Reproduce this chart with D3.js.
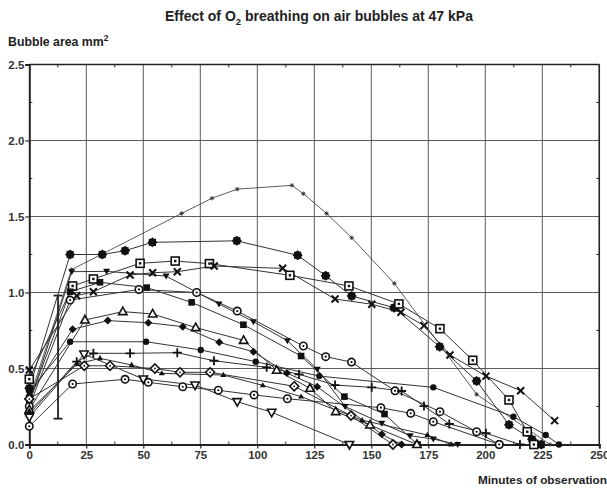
<!DOCTYPE html>
<html>
<head>
<meta charset="utf-8">
<script src="https://cdn.jsdelivr.net/npm/d3@7"></script>
<style>
  html, body { margin: 0; padding: 0; background: #fff; }
  svg { display: block; font-family: "Liberation Sans", Arial, sans-serif; }
</style>
</head>
<body>
<svg id="chart" width="607" height="493"></svg>
<script>
// Bubble area (mm²) versus minutes of observation, one array pair per bubble.
const starMin = [0, 18.5, 66.8, 80.1, 91.2, 115.2, 120.2, 130.4, 141.4, 160.1, 196.2, 228.4];
const starArea = [0.30, 1.15, 1.52, 1.62, 1.68, 1.705, 1.65, 1.52, 1.36, 1.06, 0.33, 0.0];

const cogMin = [0, 17.9, 32, 42, 54, 91, 117.7, 130, 141.4, 160, 180, 196.2, 210.4, 220.5, 224.5];
const cogArea = [0.37, 1.25, 1.25, 1.275, 1.33, 1.34, 1.245, 1.11, 0.977, 0.90, 0.643, 0.418, 0.13, 0.034, 0.0];

const dotSquareMin = [0, 19, 28.1, 48.6, 64, 79, 114.3, 140.2, 162.1, 180.1, 194.5, 210.4, 218.4, 221.3];
const dotSquareArea = [0.43, 1.043, 1.089, 1.192, 1.207, 1.19, 1.113, 1.043, 0.925, 0.762, 0.554, 0.293, 0.084, 0.0];

const crossMin = [0, 20.8, 28.1, 44.2, 54.1, 64.9, 81.1, 111.1, 134.1, 150.2, 163, 173.1, 184.5, 200.3, 215.5, 230.4];
const crossArea = [0.49, 0.979, 1.005, 1.115, 1.13, 1.137, 1.174, 1.159, 0.957, 0.923, 0.87, 0.782, 0.589, 0.45, 0.354, 0.157];

const downTriMin = [0, 18.6, 33.9, 60, 83.2, 98.3, 113.2, 126.3, 138.5, 154.6, 167, 177.2, 187.9];
const downTriArea = [0.27, 1.137, 1.139, 1.108, 0.924, 0.808, 0.683, 0.495, 0.25, 0.14, 0.058, 0.036, 0.0];

const squareMin = [0, 17.9, 31, 51.5, 71.2, 93.9, 119.2, 138.2, 155.8, 170.3];
const squareArea = [0.28, 1.005, 1.067, 1.032, 0.935, 0.788, 0.582, 0.315, 0.2, 0.0];

const ringMin = [0, 17.9, 48.1, 73.4, 91.2, 120.2, 130, 141.3, 160.4, 180.1, 196.2, 206.1];
const ringArea = [0.25, 0.95, 1.02, 1.0, 0.878, 0.648, 0.578, 0.542, 0.353, 0.216, 0.084, 0.0];

const openTriMin = [0, 24.4, 41, 54.1, 73, 94, 108.5, 123.1, 134.4, 149.4, 170];
const openTriArea = [0.23, 0.819, 0.874, 0.859, 0.769, 0.685, 0.488, 0.37, 0.216, 0.128, 0.0];

const diamondMin = [0, 19, 34.4, 52.2, 67.3, 83.3, 98.3, 113, 126.3, 154.6, 163.3];
const diamondArea = [0.32, 0.758, 0.815, 0.801, 0.775, 0.672, 0.61, 0.47, 0.38, 0.067, 0.0];

const dotMin = [0, 17.9, 51.2, 75.2, 99.3, 127.2, 177.2, 212.3, 226.5, 232.3];
const dotArea = [0.35, 0.676, 0.676, 0.622, 0.545, 0.45, 0.376, 0.183, 0.0625, 0.0];

const plusMin = [0, 20.8, 28.1, 44.2, 64.9, 81, 104.1, 118.3, 134.1, 150.2, 163.3, 173.1, 184.2, 200.3, 215.2];
const plusArea = [0.20, 0.545, 0.6, 0.6, 0.604, 0.551, 0.508, 0.462, 0.391, 0.376, 0.352, 0.253, 0.135, 0.074, 0.0];

const smallTriMin = [0, 21, 31, 44.9, 58.1, 85.1, 102.4, 119.2, 146, 174.6, 185];
const smallTriArea = [0.22, 0.53, 0.567, 0.523, 0.468, 0.457, 0.389, 0.315, 0.16, 0.0625, 0.0];

const openDownMin = [0, 24, 50, 72.7, 91.2, 106.3, 140.4];
const openDownArea = [0.18, 0.595, 0.431, 0.391, 0.282, 0.212, 0.0];

const openCircleMin = [0, 19, 42, 52.2, 67.3, 82.9, 98.6, 113.2, 154.2, 167.3, 177.2, 206.1];
const openCircleArea = [0.12, 0.398, 0.429, 0.409, 0.38, 0.357, 0.326, 0.301, 0.242, 0.205, 0.15, 0.0];

const openDiamondMin = [0, 24.1, 35.4, 55.1, 66.1, 79.3, 116.2, 141.1, 159.5];
const openDiamondArea = [0.30, 0.518, 0.518, 0.5, 0.475, 0.475, 0.383, 0.19, 0.0];

// Spread of the first measurements
const spreadMin = 12.6;
const spreadLow = 0.17;
const spreadHigh = 0.98;

const xTicks = [0, 25, 50, 75, 100, 125, 150, 175, 200, 225, 250];
const yTicks = [0.0, 0.5, 1.0, 1.5, 2.0, 2.5];
const xMinor = [12.5, 37.5, 62.5, 87.5, 112.5, 137.5, 162.5, 187.5, 212.5, 237.5];
const yMinor = [0.25, 0.75, 1.25, 1.75, 2.25];

const series = [
  { min: starMin, area: starArea, mark: "asterisk", thin: true },
  { min: cogMin, area: cogArea, mark: "cog" },
  { min: dotSquareMin, area: dotSquareArea, mark: "dotSquare" },
  { min: crossMin, area: crossArea, mark: "cross" },
  { min: downTriMin, area: downTriArea, mark: "downTri" },
  { min: squareMin, area: squareArea, mark: "square" },
  { min: ringMin, area: ringArea, mark: "ring" },
  { min: openTriMin, area: openTriArea, mark: "openTri" },
  { min: diamondMin, area: diamondArea, mark: "diamond" },
  { min: dotMin, area: dotArea, mark: "dot" },
  { min: plusMin, area: plusArea, mark: "plus" },
  { min: smallTriMin, area: smallTriArea, mark: "smallTri" },
  { min: openDownMin, area: openDownArea, mark: "openDown" },
  { min: openCircleMin, area: openCircleArea, mark: "ring" },
  { min: openDiamondMin, area: openDiamondArea, mark: "openDiamond" }
];

const svg = d3.select("#chart");
const plotLeft = 29.3, plotRight = 599.3, plotTop = 64.5, plotBottom = 444.5;
const x = d3.scaleLinear().domain([0, 250]).range([plotLeft, plotRight]);
const y = d3.scaleLinear().domain([0, 2.5]).range([plotBottom, plotTop]);

// Title and axis titles
const title = svg.append("text")
  .attr("x", 319).attr("y", 21).attr("text-anchor", "middle")
  .attr("font-size", 14).attr("font-weight", "bold").attr("fill", "#222");
title.append("tspan").text("Effect of O");
title.append("tspan").attr("font-size", 9.5).attr("dy", 3.5).text("2");
title.append("tspan").attr("dy", -3.5).text(" breathing on air bubbles at 47 kPa");

const yTitle = svg.append("text")
  .attr("x", 8).attr("y", 46)
  .attr("font-size", 12.3).attr("font-weight", "bold").attr("fill", "#222");
yTitle.append("tspan").text("Bubble area mm");
yTitle.append("tspan").attr("font-size", 8.5).attr("dy", -5).text("2");

svg.append("text")
  .attr("x", 607).attr("y", 484).attr("text-anchor", "end")
  .attr("font-size", 11.8).attr("font-weight", "bold").attr("fill", "#222")
  .text("Minutes of observation");

// Grid
const grid = svg.append("g").attr("stroke", "#5a5a5a").attr("stroke-width", 1);
grid.selectAll(".gx").data(xTicks.slice(1)).join("line")
  .attr("x1", d => x(d)).attr("x2", d => x(d)).attr("y1", plotTop).attr("y2", plotBottom);
grid.selectAll(".gy").data(yTicks.slice(1)).join("line")
  .attr("y1", d => y(d)).attr("y2", d => y(d)).attr("x1", plotLeft).attr("x2", plotRight);

// Minor ticks on all four sides, pointing inward
const minor = svg.append("g").attr("stroke", "#333").attr("stroke-width", 1);
xMinor.forEach(d => {
  minor.append("line").attr("x1", x(d)).attr("x2", x(d)).attr("y1", plotTop).attr("y2", plotTop + 3);
  minor.append("line").attr("x1", x(d)).attr("x2", x(d)).attr("y1", plotBottom).attr("y2", plotBottom - 3);
});
yMinor.forEach(d => {
  minor.append("line").attr("y1", y(d)).attr("y2", y(d)).attr("x1", plotLeft).attr("x2", plotLeft + 3);
  minor.append("line").attr("y1", y(d)).attr("y2", y(d)).attr("x1", plotRight).attr("x2", plotRight - 3);
});

// Axes
const fmt = d3.format(".1f");
const yAxis = svg.append("g").attr("transform", `translate(${plotLeft},0)`)
  .call(d3.axisLeft(y).tickValues(yTicks).tickFormat(fmt).tickSize(4).tickPadding(1));
const xAxis = svg.append("g").attr("transform", `translate(0,${plotBottom})`)
  .call(d3.axisBottom(x).tickValues(xTicks).tickFormat(d3.format("d")).tickSize(4).tickPadding(2));
[yAxis, xAxis].forEach(a => {
  a.select(".domain").attr("stroke", "#222").attr("stroke-width", 2);
  a.selectAll(".tick line").attr("stroke", "#222").attr("stroke-width", 1.2);
  a.selectAll(".tick text").attr("font-size", 11.5).attr("font-weight", "bold")
    .attr("fill", "#333").attr("font-family", "'Liberation Sans', Arial, sans-serif");
});
// Frame top and right
svg.append("line").attr("x1", plotLeft).attr("x2", plotRight).attr("y1", plotTop).attr("y2", plotTop)
  .attr("stroke", "#222").attr("stroke-width", 1.5);
svg.append("line").attr("x1", plotRight).attr("x2", plotRight).attr("y1", plotTop).attr("y2", plotBottom)
  .attr("stroke", "#222").attr("stroke-width", 1.5);

// Lines
const line = d3.line().x(d => x(d[0])).y(d => y(d[1]));
const lines = svg.append("g").attr("fill", "none");
series.forEach(s => {
  const pts = s.min.map((m, i) => [m, s.area[i]]);
  lines.append("path").datum(pts).attr("d", line)
    .attr("stroke", "#333").attr("stroke-width", s.thin ? 0.8 : 1);
});

// Spread bar of the first measurements
const bar = svg.append("g").attr("stroke", "#222").attr("stroke-width", 1.8);
bar.append("line").attr("x1", x(spreadMin)).attr("x2", x(spreadMin))
  .attr("y1", y(spreadLow)).attr("y2", y(spreadHigh));
[spreadLow, spreadHigh].forEach(v => bar.append("line")
  .attr("x1", x(spreadMin) - 4.5).attr("x2", x(spreadMin) + 4.5)
  .attr("y1", y(v)).attr("y2", y(v)));

// Markers
function cogPath(r) {
  const pts = [];
  for (let i = 0; i < 16; i++) {
    const a = i * Math.PI / 8;
    const rr = i % 2 === 0 ? r : r * 0.8;
    pts.push([rr * Math.cos(a), rr * Math.sin(a)]);
  }
  return "M" + pts.map(p => p.join(",")).join("L") + "Z";
}
const marks = svg.append("g");
function drawMark(g, type) {
  const ink = "#111";
  switch (type) {
    case "asterisk":
      g.append("path").attr("d", "M-2.2,0H2.2M0,-2.2V2.2M-1.6,-1.6L1.6,1.6M-1.6,1.6L1.6,-1.6")
        .attr("stroke", "#333").attr("stroke-width", 0.9);
      break;
    case "cog":
      g.append("path").attr("d", cogPath(5)).attr("fill", ink);
      break;
    case "dotSquare":
      g.append("rect").attr("x", -4).attr("y", -4).attr("width", 8).attr("height", 8)
        .attr("fill", "#fff").attr("stroke", ink).attr("stroke-width", 1.6);
      g.append("rect").attr("x", -1.2).attr("y", -1.2).attr("width", 2.4).attr("height", 2.4).attr("fill", ink);
      break;
    case "cross":
      g.append("path").attr("d", "M-3.5,-3.5L3.5,3.5M-3.5,3.5L3.5,-3.5")
        .attr("stroke", ink).attr("stroke-width", 2);
      break;
    case "plus":
      g.append("path").attr("d", "M-4.5,0H4.5M0,-4.5V4.5")
        .attr("stroke", ink).attr("stroke-width", 1.8);
      break;
    case "downTri":
      g.append("path").attr("d", "M-3.5,-2.5L3.5,-2.5L0,3.5Z").attr("fill", ink);
      break;
    case "square":
      g.append("rect").attr("x", -3.3).attr("y", -3.3).attr("width", 6.6).attr("height", 6.6).attr("fill", ink);
      break;
    case "ring":
      g.append("circle").attr("r", 3.7).attr("fill", "#fff").attr("stroke", ink).attr("stroke-width", 1.6);
      g.append("circle").attr("r", 1.1).attr("fill", ink);
      break;
    case "openTri":
      g.append("path").attr("d", "M0,-4.5L4.2,3L-4.2,3Z")
        .attr("fill", "#fff").attr("stroke", ink).attr("stroke-width", 1.6);
      break;
    case "smallTri":
      g.append("path").attr("d", "M0,-3.2L3,2L-3,2Z").attr("fill", ink);
      break;
    case "diamond":
      g.append("path").attr("d", "M0,-4L4,0L0,4L-4,0Z").attr("fill", ink);
      break;
    case "openDiamond":
      g.append("path").attr("d", "M0,-4.5L4.5,0L0,4.5L-4.5,0Z")
        .attr("fill", "#fff").attr("stroke", ink).attr("stroke-width", 1.6);
      g.append("circle").attr("r", 0.9).attr("fill", ink);
      break;
    case "dot":
      g.append("circle").attr("r", 3.2).attr("fill", ink);
      break;
    case "openDown":
      g.append("path").attr("d", "M-4.2,-3L4.2,-3L0,4.5Z")
        .attr("fill", "#fff").attr("stroke", ink).attr("stroke-width", 1.6);
      break;
  }
}
series.forEach(s => {
  s.min.forEach((m, i) => {
    const g = marks.append("g").attr("transform", `translate(${x(m)},${y(s.area[i])})`);
    drawMark(g, s.mark);
  });
});
</script>
</body>
</html>
